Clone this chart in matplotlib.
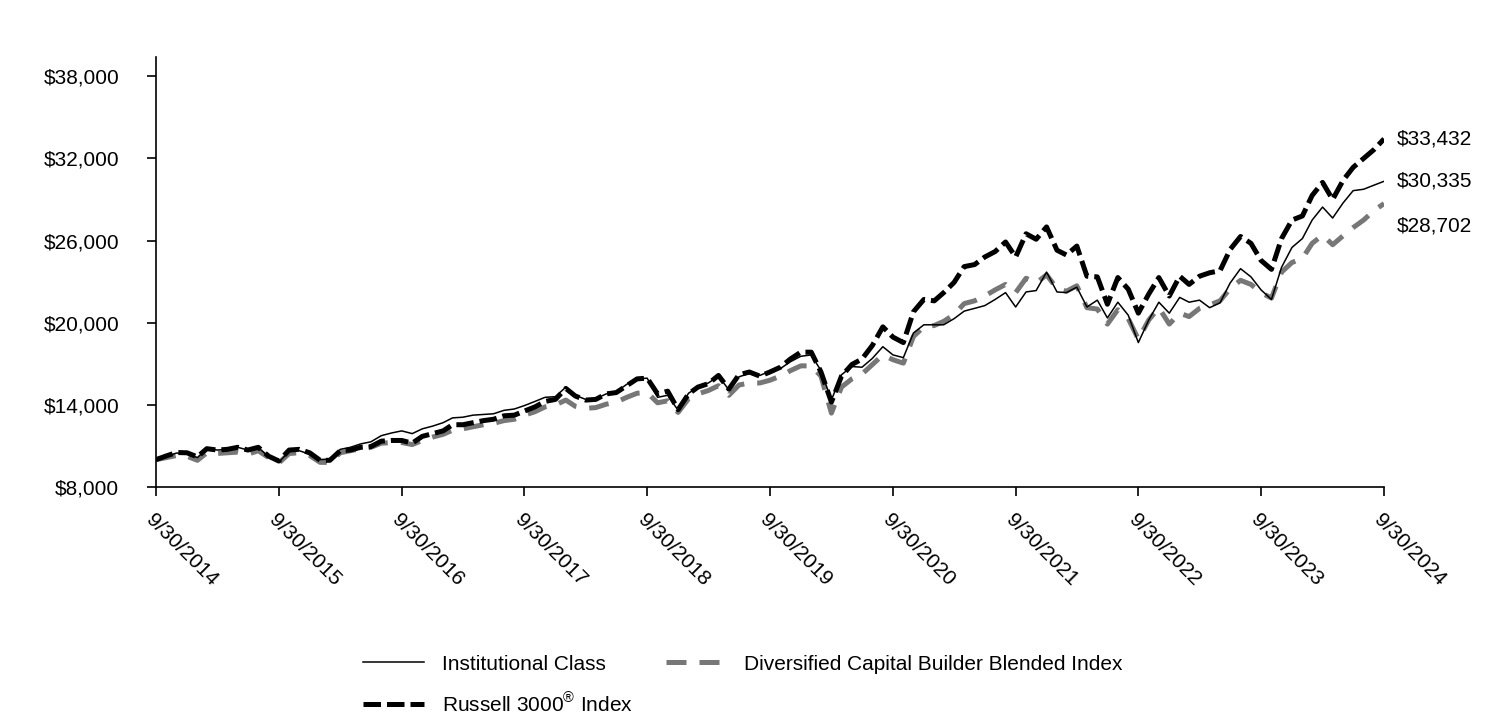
import matplotlib
matplotlib.use("Agg")
import matplotlib.pyplot as plt
import pandas as pd

plt.rcParams['font.family'] = ['Liberation Sans', 'DejaVu Sans']
plt.rcParams['mathtext.fontset'] = 'custom'
plt.rcParams['mathtext.rm'] = 'Liberation Sans'

# month-end dates 9/30/2014 .. 9/30/2024
dates = pd.date_range('2014-09-30', '2024-09-30', freq='ME')

institutional = [
    10000, 10250, 10480, 10450, 10150, 10800, 10700, 10750, 10900, 10700, 10900, 10200,
    9800, 10600, 10650, 10400, 10000, 10050, 10750, 10900, 11150, 11300, 11750, 11950,
    12100, 11900, 12250, 12450, 12700, 13050, 13100, 13250, 13300, 13350, 13600, 13700,
    13950, 14250, 14550, 14600, 15300, 14700, 14400, 14450, 14800, 14950, 15500, 15900,
    15950, 14550, 14700, 13600, 14850, 15300, 15600, 16100, 15100, 16050, 16300, 16150,
    16450, 16650, 17150, 17550, 17650, 16500, 14350, 16200, 16800, 16750, 17400, 18250,
    17650, 17450, 19250, 19850, 19850, 19850, 20300, 20850, 21050, 21250, 21700, 22200,
    21150, 22250, 22350, 23700, 22250, 22200, 22600, 21150, 21650, 20350, 21500, 20550,
    18550, 20200, 21500, 20700, 21850, 21500, 21650, 21100, 21450, 22900, 23950, 23350,
    22400, 21700, 24050, 25500, 26150, 27500, 28450, 27650, 28750, 29650, 29750, 30050,
    30335]

blended = [
    10000, 10150, 10300, 10250, 9950, 10500, 10450, 10500, 10550, 10400, 10650, 10150,
    9750, 10450, 10500, 10300, 9800, 9800, 10500, 10650, 10800, 10900, 11200, 11250,
    11250, 11100, 11400, 11650, 11850, 12150, 12250, 12400, 12550, 12650, 12850, 12950,
    13250, 13500, 13850, 14000, 14350, 13900, 13750, 13800, 14050, 14200, 14550, 14850,
    14900, 14150, 14300, 13450, 14450, 14800, 15050, 15400, 14700, 15450, 15600, 15600,
    15800, 16100, 16500, 16850, 16850, 16100, 13400, 15300, 15900, 16250, 16950, 17650,
    17300, 17050, 19000, 19700, 19800, 20100, 20600, 21400, 21600, 21950, 22400, 22800,
    22200, 23250, 22900, 23500, 22500, 22300, 22700, 21100, 21000, 19900, 20950, 20300,
    18800, 20200, 21100, 19900, 20700, 20450, 21050, 21300, 21600, 22500, 23100, 22800,
    22200, 21800, 23700, 24400, 24700, 25800, 26400, 25700, 26350, 26950, 27500, 28200,
    28702]

russell = [
    10000, 10275, 10520, 10500, 10200, 10800, 10700, 10750, 10900, 10700, 10900, 10250,
    9900, 10700, 10750, 10500, 9950, 9950, 10650, 10700, 10900, 10950, 11350, 11400,
    11400, 11200, 11700, 11900, 12100, 12550, 12550, 12700, 12850, 12950, 13200, 13250,
    13550, 13850, 14250, 14400, 15200, 14650, 14350, 14400, 14800, 14900, 15400, 15900,
    15950, 14800, 15000, 13650, 14800, 15300, 15550, 16150, 15150, 16200, 16400, 16100,
    16400, 16750, 17350, 17850, 17850, 16400, 14200, 16100, 16950, 17350, 18350, 19700,
    18950, 18550, 20800, 21700, 21600, 22200, 22950, 24100, 24250, 24800, 25200, 25900,
    24800, 26500, 26100, 27000, 25300, 24950, 25600, 23400, 23350, 21350, 23300, 22450,
    20700, 22100, 23300, 21950, 23400, 22800, 23400, 23650, 23800, 25350, 26300, 25800,
    24550, 23900, 26150, 27500, 27800, 29300, 30250, 29000, 30400, 31350, 32000, 32650,
    33432]

yticks = [8000, 14000, 20000, 26000, 32000, 38000]
xtick_dates = pd.to_datetime(['%d-09-30' % y for y in range(2014, 2025)])

fig = plt.figure(figsize=(15.12, 7.2), dpi=100)
ax = fig.add_axes([0.1032, 0.3236, 0.8122, 0.597])

l_b, = ax.plot(dates, blended, color='#777777', lw=3.6, dashes=(4, 2.6),
               label='Diversified Capital Builder Blended Index')
l_r, = ax.plot(dates, russell, color='black', lw=3.6, dashes=(3.5, 1.2),
               label=r'Russell 3000$^{\mathrm{®}}$ Index')
l_i, = ax.plot(dates, institutional, color='black', lw=1.1,
               label='Institutional Class')

ax.set_xlim(dates[0], dates[-1])
ax.set_ylim(8000, 39400)
ax.set_yticks(yticks)
ax.set_yticklabels(['${:,.0f}'.format(v) for v in yticks])
ax.set_xticks(xtick_dates)
ax.set_xticklabels([d.strftime('%-m/%d/%Y') for d in xtick_dates],
                   rotation=-45, ha='left', va='top', rotation_mode='anchor')
ax.tick_params(axis='both', labelsize=15, length=6.5, width=1.2, direction='out')
ax.tick_params(axis='y', pad=20)
ax.tick_params(axis='x', pad=10)
for s in ['top', 'right']:
    ax.spines[s].set_visible(False)
for s in ['left', 'bottom']:
    ax.spines[s].set_linewidth(1.2)

# end value labels
ends = [(russell[-1], 0), (institutional[-1], 0), (blended[-1], -16)]
for v, off in ends:
    ax.annotate('${:,.0f}'.format(v), xy=(dates[-1], v), xytext=(9, off),
                textcoords='offset points', ha='left', va='center', fontsize=15,
                annotation_clip=False)

fig.legend([l_i, l_r, l_b], [l_i.get_label(), l_r.get_label(), l_b.get_label()],
           loc='upper left', bbox_to_anchor=(0.228, 0.117), ncol=2, frameon=False,
           fontsize=15, handlelength=2.9, handletextpad=0.85, columnspacing=1.6,
           labelspacing=0.85)

fig.savefig('out.png', dpi=100)
